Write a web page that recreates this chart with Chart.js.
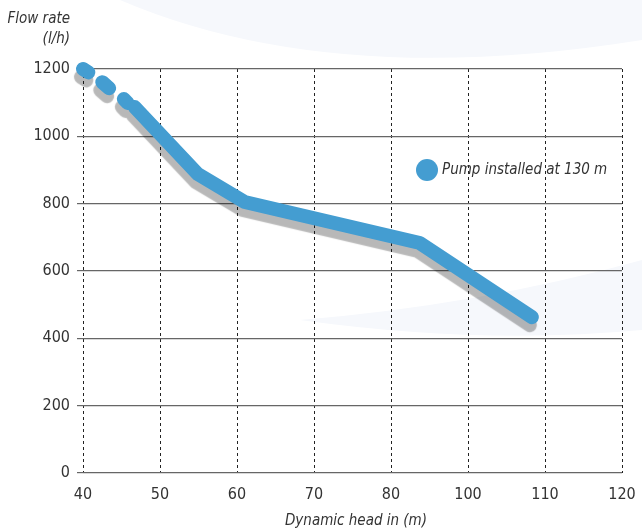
<!DOCTYPE html>
<html>
<head>
<meta charset="utf-8">
<script src="https://cdn.jsdelivr.net/npm/chart.js@4"></script>
<style>
    html, body { margin: 0; padding: 0; background: #fff; }
    #wrap { width: 642px; height: 531px; }
</style>
</head>
<body>
<div id="wrap"><canvas id="pumpChart" width="642" height="531"></canvas></div>
<script>
// 펌프 성능 곡선 - 130 m 설치

const headTicks = [40, 50, 60, 70, 80, 100, 110, 120];
const flowTicks = [0, 200, 400, 600, 800, 1000, 1200];

// null = 선 끊김 (앞쪽 점선 구간)
const headValues = [40, 40.7, null, 42.5, 43.4, null, 45.3, 45.8, null, 46.7, 54.9, 61.0, 87.5, 108.3];
const flowValues = [1200, 1190, null, 1161, 1143, null, 1111, 1099, null, 1087, 888, 805, 683, 463];

const seriesLabel = 'Pump installed at 130 m';
const yTitle = ['Flow rate', '(l/h)'];
const xTitle = 'Dynamic head in (m)';

const FONT = "'Liberation Sans Narrow', 'DejaVu Sans Condensed', 'Roboto', sans-serif";
const BLUE = '#449dd1';

// x축 눈금 간격이 균일하지 않음 (80 -> 100) : 눈금 위치로 환산
function headToPos(h) {
    if (h === null) return null;
    for (let i = 0; i < headTicks.length - 1; i++) {
        if (h <= headTicks[i + 1]) {
            return i + (h - headTicks[i]) / (headTicks[i + 1] - headTicks[i]);
        }
    }
    return headTicks.length - 1;
}

const points = headValues.map((h, i) => ({ x: headToPos(h), y: flowValues[i] }));

const shadowPlugin = {
    id: 'lineShadow',
    beforeDatasetsDraw(chart) {
        const ctx = chart.ctx;
        ctx.save();
        ctx.shadowColor = 'rgba(0, 0, 0, 0.28)';
        ctx.shadowOffsetX = -2;
        ctx.shadowOffsetY = 8;
        ctx.shadowBlur = 1;
    },
    afterDatasetsDraw(chart) {
        chart.ctx.restore();
    }
};

const textPlugin = {
    id: 'textLabels',
    afterDraw(chart) {
        const ctx = chart.ctx;
        ctx.save();
        ctx.fillStyle = '#333';
        ctx.font = 'italic 15px ' + FONT;
        ctx.textBaseline = 'middle';
        ctx.textAlign = 'right';
        ctx.fillText(yTitle[0], 70, 19);
        ctx.fillText(yTitle[1], 70, 39);

        ctx.textAlign = 'center';
        ctx.fillText(xTitle, 356, 521);

        // 범례
        ctx.beginPath();
        ctx.arc(427, 170, 11, 0, Math.PI * 2);
        ctx.fillStyle = BLUE;
        ctx.fill();
        ctx.fillStyle = '#333';
        ctx.textAlign = 'left';
        ctx.font = 'italic 15px ' + FONT;
        ctx.fillText(seriesLabel, 442, 170);
        ctx.restore();
    }
};

const bgPlugin = {
    id: 'bgSwoosh',
    beforeDraw(chart) {
        const ctx = chart.ctx;
        ctx.save();
        ctx.fillStyle = '#f6f8fc';
        ctx.beginPath();
        ctx.moveTo(120, 0);
        ctx.quadraticCurveTo(330, 90, 642, 40);
        ctx.lineTo(642, 0);
        ctx.closePath();
        ctx.fill();
        ctx.beginPath();
        ctx.moveTo(300, 320);
        ctx.quadraticCurveTo(480, 305, 642, 260);
        ctx.lineTo(642, 330);
        ctx.quadraticCurveTo(480, 345, 300, 320);
        ctx.closePath();
        ctx.fill();
        ctx.restore();
    }
};

const ctx = document.getElementById('pumpChart');

new Chart(ctx, {
    type: 'line',
    data: {
        datasets: [{
            label: seriesLabel,
            data: points,
            borderColor: BLUE,
            borderWidth: 14,
            borderCapStyle: 'round',
            borderJoinStyle: 'round',
            pointRadius: 0,
            tension: 0,
            spanGaps: false,
            fill: false,
            clip: false
        }]
    },
    options: {
        responsive: false,
        animation: false,
        layout: { padding: { top: 69, right: 20, left: 0, bottom: 0 } },
        plugins: {
            legend: { display: false },
            tooltip: { enabled: false }
        },
        scales: {
            x: {
                type: 'linear',
                min: 0,
                max: headTicks.length - 1,
                afterFit: s => { s.height = 58; s.paddingLeft = 0; s.paddingRight = 0; },
                afterBuildTicks: s => { s.ticks = headTicks.map((v, i) => ({ value: i })); },
                ticks: {
                    padding: 12,
                    color: '#333',
                    font: { family: FONT, size: 16 },
                    maxRotation: 0,
                    callback: v => headTicks[v]
                },
                grid: { color: '#222', lineWidth: 1, drawTicks: false },
                border: { display: false, dash: [3, 3] }
            },
            y: {
                min: 0,
                max: 1200,
                afterFit: s => { s.width = 83; s.paddingTop = 0; s.paddingBottom = 0; },
                afterBuildTicks: s => { s.ticks = flowTicks.map(v => ({ value: v })); },
                ticks: {
                    padding: 7,
                    color: '#333',
                    font: { family: FONT, size: 16 },
                    callback: v => String(v)
                },
                grid: { color: '#666', lineWidth: 1.2, tickLength: 6 },
                border: { display: false }
            }
        }
    },
    plugins: [bgPlugin, shadowPlugin, textPlugin]
});
</script>
</body>
</html>
